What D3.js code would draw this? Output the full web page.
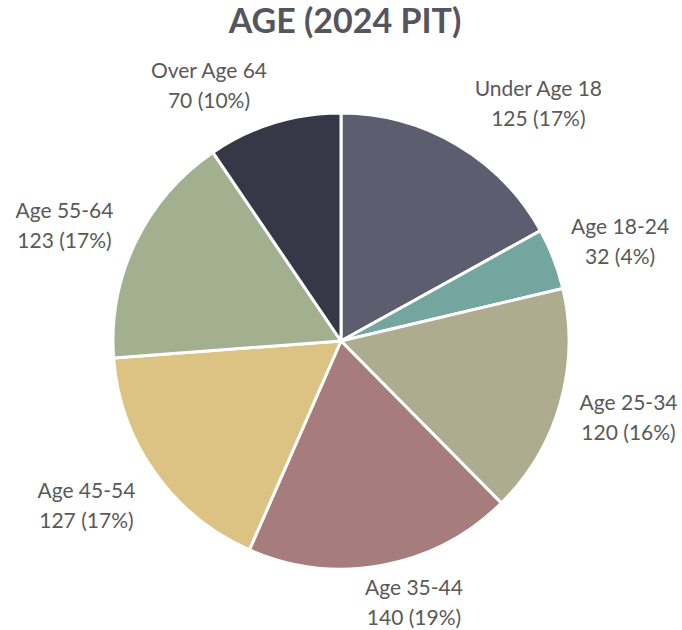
<!DOCTYPE html>
<html><head><meta charset="utf-8">
<script src="https://cdn.jsdelivr.net/npm/d3@7"></script>
<style>body{margin:0;background:#fff;}</style>
</head><body>
<svg id="chart" width="682" height="630"></svg>
<script>
const categories = ["Under Age 18","Age 18-24","Age 25-34","Age 35-44","Age 45-54","Age 55-64","Over Age 64"];
const values = [125, 32, 120, 140, 127, 123, 70];
const percentLabels = ["17%","4%","16%","19%","17%","17%","10%"];
const colors = ["#5c5e70","#74a6a0","#aeac8e","#a67c7c","#dcc384","#a2b08f","#363847"];
// label layout nudges (px) relative to mid-angle anchor
const labelNudge = [[47,17],[3,7],[3,-6],[19,-30],[-13,-7],[-10,13],[-45,27]];

const svg = d3.select("#chart");
const cx = 341, cy = 341, R = 228;
const font = "Lato, 'Open Sans', sans-serif";

svg.append("text").attr("x", 345).attr("y", 33).attr("text-anchor","middle")
  .attr("font-family", font).attr("font-weight","bold").attr("font-size", 34)
  .attr("fill","#555560").text("AGE (2024 PIT)");

const data = categories.map((c,i)=>({cat:c, value:values[i], pct:percentLabels[i], color:colors[i], i}));
const pie = d3.pie().value(d=>d.value).sort(null);
const arc = d3.arc().innerRadius(0).outerRadius(R);
const arcs = pie(data);
const g = svg.append("g").attr("transform",`translate(${cx},${cy})`);
g.selectAll("path").data(arcs).join("path")
  .attr("d", arc).attr("fill", d=>d.data.color)
  .attr("stroke","#fff").attr("stroke-width",3).attr("stroke-linejoin","round");

const labelArc = d3.arc().innerRadius(296).outerRadius(296);
const lg = svg.append("g").attr("transform",`translate(${cx},${cy})`);
arcs.forEach(d=>{
  const [x,y] = labelArc.centroid(d);
  const n = labelNudge[d.data.i];
  const t = lg.append("text").attr("text-anchor","middle")
    .attr("font-family", font).attr("font-size", 21).attr("fill","#595959");
  t.append("tspan").attr("x", x+n[0]).attr("y", y+n[1]-7).text(d.data.cat);
  t.append("tspan").attr("x", x+n[0]).attr("y", y+n[1]+23).text(`${d.data.value} (${d.data.pct})`);
});
</script>
</body></html>
